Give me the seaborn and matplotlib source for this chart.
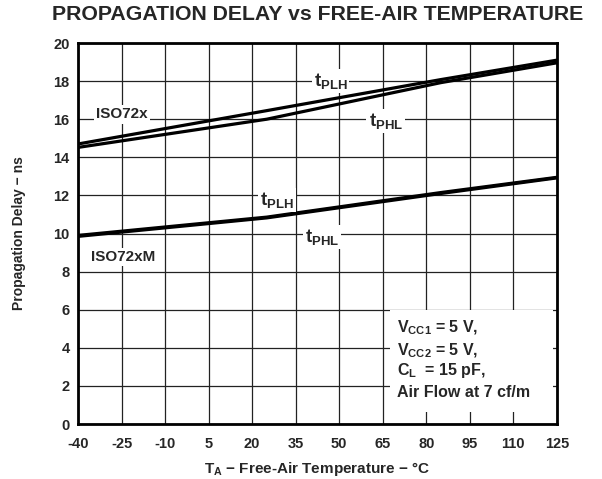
import numpy as np
import pandas as pd
import matplotlib
matplotlib.use("Agg")
import matplotlib.pyplot as plt
import seaborn as sns

# temperatures (°C) and propagation delays (ns)
temps = [-40, 25, 85, 125]
iso72x_tplh = [14.70, 16.45, 18.08, 19.10]
iso72x_tphl = [14.52, 16.00, 17.92, 18.96]
iso72xm_tplh = [9.90, 10.86, 12.15, 12.95]
iso72xm_tphl = [9.85, 10.82, 12.10, 12.92]

xticks = [-40, -25, -10, 5, 20, 35, 50, 65, 80, 95, 110, 125]
yticks = [0, 2, 4, 6, 8, 10, 12, 14, 16, 18, 20]

sns.set_style("white")
plt.rcParams['font.family'] = ['Liberation Sans', 'DejaVu Sans']
plt.rcParams['font.weight'] = 'bold'
plt.rcParams['axes.unicode_minus'] = False
plt.rcParams['mathtext.fontset'] = 'custom'
plt.rcParams['mathtext.rm'] = 'Liberation Sans:bold'
plt.rcParams['mathtext.it'] = 'Liberation Sans:bold'
plt.rcParams['mathtext.bf'] = 'Liberation Sans:bold'
plt.rcParams['mathtext.default'] = 'bf'

rows = []
for name, vals in [("ISO72x tPLH", iso72x_tplh), ("ISO72x tPHL", iso72x_tphl),
                   ("ISO72xM tPLH", iso72xm_tplh), ("ISO72xM tPHL", iso72xm_tphl)]:
    for t, v in zip(temps, vals):
        rows.append({"series": name, "temp": t, "delay": v})
data = pd.DataFrame(rows)

fig = plt.figure(figsize=(6.02, 4.79), dpi=100)
ax = fig.add_axes([0.1296, 0.1148, 0.7955, 0.7954])

sns.lineplot(data=data, x="temp", y="delay", hue="series", units="series",
             estimator=None, palette=["black"] * 4, linewidth=2.3,
             legend=False, ax=ax, zorder=3)

ax.set_xlim(-40, 125)
ax.set_ylim(0, 20)
ax.set_xticks(xticks)
ax.set_yticks(yticks)
ax.grid(True, color="#222222", linewidth=0.9)
ax.tick_params(axis="both", length=0, labelsize=10.5)
ax.tick_params(axis="x", pad=9)
ax.tick_params(axis="y", pad=6)
for lab in ax.get_xticklabels() + ax.get_yticklabels():
    lab.set_fontweight("bold")
for sp in ax.spines.values():
    sp.set_linewidth(2)
    sp.set_color("black")
    sp.set_zorder(5)

ax.set_xlabel(r"$T_A$ − Free-Air Temperature − °C", fontsize=11,
              fontweight="bold", labelpad=7)
ax.set_ylabel("Propagation Delay − ns", fontsize=10, fontweight="bold", labelpad=20)
fig.suptitle("PROPAGATION DELAY vs FREE-AIR TEMPERATURE", fontsize=15.3,
             fontweight="bold", x=0.527, y=0.99)

box = dict(facecolor="white", edgecolor="none", pad=1.5)
lab_kw = dict(fontweight="bold", ha="center", va="center", zorder=4, bbox=box)
ax.text(47, 18.0, r"$t_{PLH}$", fontsize=13.5, **lab_kw)
ax.text(66, 15.9, r"$t_{PHL}$", fontsize=13.5, **lab_kw)
ax.text(-25, 16.25, "ISO72x", fontsize=11, **lab_kw)
ax.text(28.5, 11.75, r"$t_{PLH}$", fontsize=13.5, **lab_kw)
ax.text(44, 9.8, r"$t_{PHL}$", fontsize=13.5, **lab_kw)
ax.text(-24.5, 8.75, "ISO72xM", fontsize=11, **lab_kw)

ax.add_patch(plt.Rectangle((67.5, 0.65), 56, 5.35, facecolor="white",
                           edgecolor="none", zorder=3.5))
cond_lines = [r"$V_{CC1}$ = 5 V,", r"$V_{CC2}$ = 5 V,", r"$C_L$  = 15 pF,",
              "Air Flow at 7 cf/m"]
cond_y = [5.05, 3.85, 2.8, 1.65]
for s, yv in zip(cond_lines, cond_y):
    ax.text(70, yv, s, fontsize=11.5, fontweight="bold",
            ha="left", va="center", zorder=4)

fig.savefig("out.png", dpi=100)
